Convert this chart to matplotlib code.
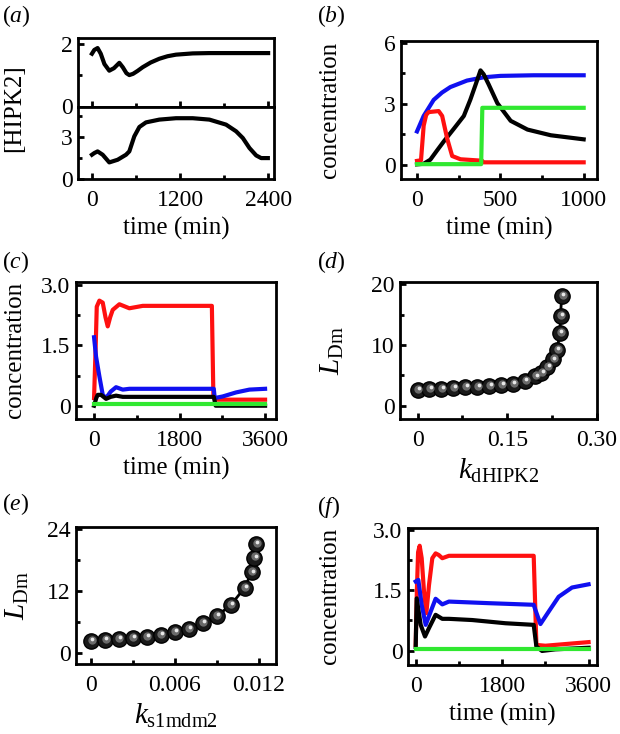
import matplotlib
matplotlib.use("Agg")
import matplotlib.pyplot as plt
from matplotlib.transforms import offset_copy

plt.rcParams['font.family'] = ['Liberation Serif', 'DejaVu Serif']
plt.rcParams['mathtext.fontset'] = 'custom'
plt.rcParams['mathtext.rm'] = 'Liberation Serif'
plt.rcParams['mathtext.it'] = 'Liberation Serif:italic'

RED, BLUE, GREEN, BLACK = '#ff1010', '#1010f0', '#30e830', 'black'

# (a) HIPK2 time courses, two stacked panels
t_a1 = [0, 32, 77, 120, 170, 236, 300, 373, 420, 470, 509, 560, 620, 691, 800, 918, 1030, 1145, 1373, 1600, 1900, 2200, 2400]
hipk2_a1 = [1.68, 1.80, 1.86, 1.68, 1.35, 1.14, 1.22, 1.39, 1.25, 1.06, 1.00, 1.04, 1.13, 1.25, 1.40, 1.52, 1.60, 1.65, 1.69, 1.70, 1.70, 1.70, 1.70]
t_a2 = [0, 32, 77, 146, 236, 350, 464, 509, 577, 646, 736, 918, 1145, 1373, 1600, 1827, 1964, 2055, 2146, 2237, 2305, 2396]
hipk2_a2 = [1.74, 1.86, 1.98, 1.74, 1.19, 1.38, 1.74, 1.98, 3.06, 3.73, 4.06, 4.26, 4.36, 4.36, 4.26, 3.90, 3.42, 2.94, 2.22, 1.69, 1.50, 1.50]

# (b)
t_b_blue = [0, 40, 100, 150, 200, 300, 400, 500, 700, 1000]
b_blue = [1.64, 2.40, 3.19, 3.55, 3.82, 4.14, 4.30, 4.37, 4.40, 4.40]
t_b_black = [0, 40, 80, 120, 160, 221, 281, 320, 350, 381, 400, 430, 482, 562, 663, 803, 1000]
b_black = [0.02, 0.05, 0.25, 0.70, 1.14, 1.77, 2.40, 3.20, 3.90, 4.64, 4.45, 3.95, 3.03, 2.16, 1.73, 1.45, 1.25]
t_b_red = [0, 24, 40, 55, 70, 130, 151, 181, 211, 261, 390, 400, 1000]
b_red = [0.19, 0.22, 1.92, 2.45, 2.59, 2.64, 2.40, 1.29, 0.43, 0.27, 0.20, 0.12, 0.12]
t_b_green = [0, 385, 392, 1000]
b_green = [0.03, 0.03, 2.80, 2.80]

# (c)
t_c_red = [0, 35, 57, 112, 183, 240, 288, 340, 393, 533, 743, 1025, 2480, 2512, 2568, 3600]
c_red = [0.19, 1.50, 2.46, 2.61, 2.56, 2.20, 1.97, 2.20, 2.38, 2.52, 2.42, 2.48, 2.48, 0.23, 0.15, 0.15]
t_c_blue = [0, 42, 112, 183, 253, 350, 463, 604, 743, 2520, 2540, 2709, 2989, 3270, 3600]
c_blue = [1.70, 1.22, 0.73, 0.27, 0.19, 0.35, 0.46, 0.40, 0.42, 0.42, 0.19, 0.23, 0.33, 0.40, 0.42]
t_c_black = [0, 50, 78, 147, 253, 350, 463, 604, 2520, 2560, 3600]
c_black = [0.00, 0.20, 0.27, 0.27, 0.17, 0.22, 0.25, 0.22, 0.22, 0.00, 0.00]
t_c_green = [0, 3600]
c_green = [0.05, 0.05]

# (d) L_Dm vs k_dHIPK2
k_dhipk2 = [0, 0.02, 0.04, 0.06, 0.08, 0.10, 0.12, 0.14, 0.16, 0.18, 0.197, 0.207, 0.217, 0.226, 0.233, 0.238, 0.239, 0.241]
ldm_d = [2.6, 2.7, 2.75, 2.85, 3.0, 3.1, 3.25, 3.35, 3.55, 4.1, 4.8, 5.3, 6.3, 7.6, 9.1, 11.9, 14.8, 18.1]

# (e) L_Dm vs k_s1mdm2
k_s1mdm2 = [0, 0.001, 0.002, 0.003, 0.004, 0.005, 0.006, 0.007, 0.008, 0.009, 0.010, 0.011, 0.0115, 0.0117, 0.0118]
ldm_e = [2.3, 2.5, 2.7, 2.8, 3.0, 3.4, 4.0, 4.6, 5.7, 7.1, 9.2, 12.6, 15.6, 18.5, 21.1]

# (f)
t_f_red = [0, 25, 50, 83, 125, 173, 222, 277, 346, 415, 480, 554, 692, 2457, 2513, 2700, 3600]
f_red = [0.14, 1.50, 2.45, 2.61, 2.30, 1.47, 0.93, 1.63, 2.30, 2.42, 2.38, 2.30, 2.36, 2.36, 0.14, 0.12, 0.21]
t_f_blue = [0, 55, 125, 208, 312, 415, 554, 692, 1523, 2457, 2493, 2597, 2769, 2977, 3255, 3600]
f_blue = [1.72, 1.76, 1.14, 0.64, 0.97, 1.29, 1.15, 1.22, 1.18, 1.14, 1.01, 0.66, 0.97, 1.34, 1.57, 1.65]
t_f_black = [0, 21, 104, 194, 277, 415, 554, 692, 1177, 1870, 2457, 2513, 2631, 2908, 3600]
f_black = [0.09, 1.30, 0.64, 0.35, 0.56, 0.89, 0.79, 0.79, 0.76, 0.68, 0.64, 0.10, -0.01, 0.03, 0.07]
t_f_green = [0, 3600]
f_green = [0.04, 0.04]

W, H = 620, 734
fig = plt.figure(figsize=(W / 100, H / 100), dpi=100)


def box(l, t, r, b):
    return fig.add_axes([l / W, 1 - b / H, (r - l) / W, (b - t) / H])


def style(ax, xt, xminor, yt, yminor, xlab=None):
    for s in ax.spines.values():
        s.set_linewidth(2)
    ax.set_xticks(xt)
    ax.set_xticks(xminor, minor=True)
    ax.set_yticks(yt)
    ax.set_yticks(yminor, minor=True)
    ax.tick_params(which='both', direction='in', top=False, right=False, width=2, labelsize=17)
    ax.tick_params(which='major', length=4.5)
    ax.tick_params(which='minor', length=3)
    ax.tick_params(axis='x', pad=8)
    ax.tick_params(axis='y', pad=4)
    if xlab:
        ax.set_xlabel(xlab, fontsize=18, labelpad=4)


def lines(ax, series):
    for x, y, c in series:
        ax.plot(x, y, color=c, lw=3, solid_joinstyle='round')


def spheres(ax, x, y):
    ax.plot(x, y, color='black', lw=2, zorder=2)
    ax.plot(x, y, 'o', ms=11, mfc='#1a1a1a', mec='black', mew=1, zorder=3)
    mid = offset_copy(ax.transData, fig=fig, x=0.6, y=0.8, units='points')
    ax.plot(x, y, 'o', ms=6, mfc='#6a6a6a', mec='none', transform=mid, zorder=4)
    hi = offset_copy(ax.transData, fig=fig, x=0.9, y=1.4, units='points')
    ax.plot(x, y, 'o', ms=2.7, mfc='#e8e8e8', mec='none', transform=hi, zorder=5)


def ylabel_at(ax, text, xpix, size=18):
    l = ax.get_position().x0 * W
    w = ax.get_position().width * W
    ax.set_ylabel(text, fontsize=size)
    ax.yaxis.label.set_va('center')
    ax.yaxis.set_label_coords((xpix - l) / w, 0.5)


def letter(x, y, ch):
    fig.text(x / W, 1 - y / H, '($\\it{' + ch + '}$)', fontsize=17, va='center', ha='left')


# (a)
ax1 = box(78, 38, 274, 106.5)
ax1.plot(t_a1, hipk2_a1, color=BLACK, lw=3)
ax1.set_xlim(-190, 2480)
ax1.set_ylim(0, 2.18)
style(ax1, [0, 1200, 2400], [600, 1800], [0, 2], [1])
ax1.tick_params(axis='x', labelbottom=False)
ax2 = box(78, 106.5, 274, 179)
ax2.plot(t_a2, hipk2_a2, color=BLACK, lw=3)
ax2.set_xlim(-190, 2480)
ax2.set_ylim(0, 5.2)
style(ax2, [0, 1200, 2400], [600, 1800], [0, 3], [1.5, 4.5], 'time (min)')
ax2.set_xticklabels(['0', '1200', '2400'])
fig.text(14 / W, 1 - 108 / H, '[HIPK2]', rotation=90, fontsize=18, ha='center', va='center')

# (b)
axb = box(401, 40.7, 597, 179)
lines(axb, [(t_b_blue, b_blue, BLUE), (t_b_black, b_black, BLACK),
            (t_b_red, b_red, RED), (t_b_green, b_green, GREEN)])
axb.set_xlim(-96, 1080)
axb.set_ylim(-0.7, 6.1)
style(axb, [0, 500, 1000], [250, 750], [0, 3, 6], [1.5, 4.5], 'time (min)')
ylabel_at(axb, 'concentration', 330)

# (c)
axc = box(76, 281.7, 276, 419)
lines(axc, [(t_c_red, c_red, RED), (t_c_blue, c_blue, BLUE),
            (t_c_black, c_black, BLACK), (t_c_green, c_green, GREEN)])
axc.set_xlim(-380, 3830)
axc.set_ylim(-0.33, 3.08)
style(axc, [0, 1800, 3600], [900, 2700], [0, 1.5, 3.0], [0.75, 2.25], 'time (min)')
axc.set_yticklabels(['0', '1.5', '3.0'])
ylabel_at(axc, 'concentration', 15)

# (d)
axd = box(400, 281.7, 597, 419)
spheres(axd, k_dhipk2, ldm_d)
axd.set_xlim(-0.0293, 0.297)
axd.set_ylim(-2.2, 20.4)
style(axd, [0, 0.15, 0.30], [0.075, 0.225], [0, 10, 20], [5, 15], r'$k_{\mathrm{dHIPK2}}$')
axd.xaxis.label.set_size(21)
axd.set_xticklabels(['0', '0.15', '0.30'])
ylabel_at(axd, r'$L_{\mathrm{Dm}}$', 332, 21)

# (e)
axe = box(76, 526.7, 276, 664)
spheres(axe, k_s1mdm2, ldm_e)
axe.set_xlim(-0.00105, 0.01325)
axe.set_ylim(-2.2, 24.5)
style(axe, [0, 0.006, 0.012], [0.003, 0.009], [0, 12, 24], [6, 18], r'$k_{\mathrm{s1mdm2}}$')
axe.xaxis.label.set_size(21)
axe.set_xticklabels(['0', '0.006', '0.012'])
ylabel_at(axe, r'$L_{\mathrm{Dm}}$', 17, 21)

# (f)
axf = box(408, 527.7, 597, 665)
lines(axf, [(t_f_red, f_red, RED), (t_f_blue, f_blue, BLUE),
            (t_f_black, f_black, BLACK), (t_f_green, f_green, GREEN)])
axf.set_xlim(-160, 3775)
axf.set_ylim(-0.36, 3.06)
style(axf, [0, 1800, 3600], [900, 2700], [0, 1.5, 3.0], [0.75, 2.25], 'time (min)')
axf.set_yticklabels(['0', '1.5', '3.0'])
ylabel_at(axf, 'concentration', 330)

for x, y, ch in [(2, 16, 'a'), (317, 16, 'b'), (2, 262, 'c'), (317, 262, 'd'), (2, 504, 'e'), (317, 507, 'f')]:
    letter(x, y, ch)

fig.savefig('out.png', dpi=100)
